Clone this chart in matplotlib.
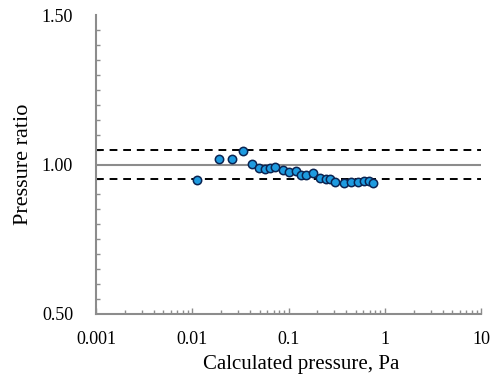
import numpy as np
import matplotlib
matplotlib.use("Agg")
import matplotlib.pyplot as plt
from matplotlib.ticker import FixedLocator, MultipleLocator, NullFormatter

# calculated pressure (Pa) and measured / calculated pressure ratio
pressure = [0.0113, 0.0191, 0.0257, 0.0334, 0.0415, 0.049, 0.057, 0.0647, 0.073,
            0.0883, 0.102, 0.119, 0.134, 0.151, 0.181, 0.212, 0.243, 0.270,
            0.302, 0.374, 0.450, 0.531, 0.604, 0.686, 0.760]
ratio = [0.948, 1.017, 1.017, 1.044, 1.003, 0.987, 0.985, 0.988, 0.993,
         0.983, 0.975, 0.979, 0.966, 0.966, 0.971, 0.955, 0.953, 0.950,
         0.942, 0.939, 0.940, 0.942, 0.944, 0.946, 0.937]

ref_line = 1.00
band = [0.95, 1.05]
x_ticks = [0.001, 0.01, 0.1, 1, 10]
x_labels = ["0.001", "0.01", "0.1", "1", "10"]
y_ticks = [0.50, 1.00, 1.50]

plt.rcParams["font.family"] = ["Liberation Serif", "DejaVu Serif"]

fig = plt.figure(figsize=(4.94, 3.81), dpi=100)
ax = fig.add_axes([96 / 494, 1 - 314 / 381, (481 - 96) / 494, (314 - 15) / 381])

gray = "#8c8c8c"
ax.axhline(ref_line, color=gray, lw=1.5, zorder=1)
for b in band:
    ax.axhline(b, color="black", lw=1.4, ls=(0, (4, 3)), zorder=2)

ax.plot(pressure, ratio, ls="none", marker="o", ms=6,
        mfc="#1e9be0", mec="#0b2452", mew=1.1, zorder=3)

ax.set_xscale("log")
ax.set_xlim(0.001, 10)
ax.set_ylim(0.5, 1.5)

ax.xaxis.set_major_locator(FixedLocator(x_ticks))
ax.set_xticklabels(x_labels)
ax.xaxis.set_minor_formatter(NullFormatter())
ax.yaxis.set_major_locator(FixedLocator(y_ticks))
ax.yaxis.set_minor_locator(MultipleLocator(0.05))
ax.set_yticklabels([f"{v:.2f}" for v in y_ticks])

for s in ["top", "right"]:
    ax.spines[s].set_visible(False)
for s in ["left", "bottom"]:
    ax.spines[s].set_color(gray)
    ax.spines[s].set_linewidth(1.5)

ax.tick_params(which="both", direction="in", color=gray, width=1.0)
ax.tick_params(which="major", length=4, labelsize=13)
ax.tick_params(axis="x", which="major", pad=12)
ax.tick_params(axis="y", which="major", length=0, pad=16.5)
ax.tick_params(which="minor", length=3)

ax.set_xlabel("Calculated pressure, Pa", fontsize=15)
ax.set_ylabel("Pressure ratio", fontsize=16)
ax.xaxis.set_label_coords(0.534, -0.137)
ax.yaxis.set_label_coords(-0.164, 0.5)

fig.savefig("out.png", dpi=100)
